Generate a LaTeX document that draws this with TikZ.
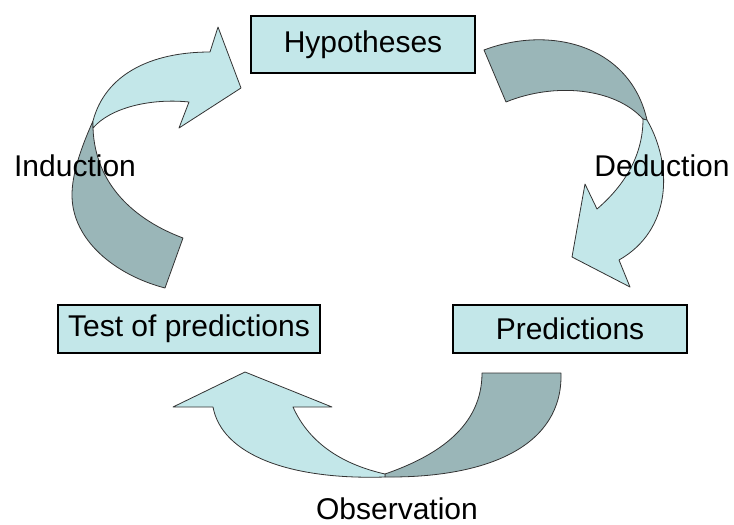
\documentclass[tikz,border=0pt]{standalone}
\usepackage{fontspec}
\setmainfont{Liberation Sans}
\usepackage{xcolor}
\definecolor{frontcol}{HTML}{C3E7E9}
\definecolor{backcol}{HTML}{9AB6B8}
\tikzset{
	box/.style = {draw = black, fill = frontcol, line width = 1.1pt, inner sep = 0pt},
	frontface/.style = {fill = frontcol, draw = black!80, line width = 0.8pt, line join = round},
	backface/.style = {fill = backcol, draw = black!80, line width = 0.8pt, line join = round},
	lbl/.style = {font = \fontsize{30}{36}\selectfont}
}

\begin{document}
\begin{tikzpicture}[x=1pt, y=-1pt]
		\useasboundingbox (0,0) rectangle (734,525);
		\begin{scope}
			% induction: from test of predictions up to hypotheses
			\draw[backface] (93,121) .. controls (80,150) and (72,175) .. (72,195)
				.. controls (72,240) and (115,275) .. (165,288) -- (183,238)
				.. controls (135,220) and (95,185) .. (93,128) -- cycle;
			\draw[frontface] (93,121) .. controls (105,75) and (150,52) .. (210,52)
				-- (218,27) -- (241,88) -- (179,128) -- (189,102)
				.. controls (150,98) and (110,108) .. (93,128) -- cycle;

			% deduction: from hypotheses down to predictions
			\draw[backface] (484,50) .. controls (550,25) and (630,45) .. (647,120)
				-- (643,119) .. controls (615,88) and (555,82) .. (506,102) -- cycle;
			\draw[frontface] (647,120) .. controls (673,165) and (672,230) .. (619,260)
				-- (630,287) -- (572,257) -- (585,184) -- (597,209)
				.. controls (625,185) and (643,155) .. (643,119) -- cycle;

			% observation: from predictions round to test of predictions
			\draw[backface] (482,373) -- (561,373) .. controls (563,445) and (490,478) .. (385,477)
				-- (385,474) .. controls (440,455) and (482,425) .. (482,373) -- cycle;
			\draw[frontface] (385,477) .. controls (290,480) and (222,455) .. (213,407)
				-- (173,407) -- (245,372) -- (332,407) -- (293,407)
				.. controls (310,445) and (345,465) .. (385,474) -- cycle;
		\end{scope}

		\node[box, lbl, minimum width = 224pt, minimum height = 57pt] (hyp) at (363,44.5) {Hypotheses};
		\node[box, lbl, minimum width = 262pt, minimum height = 48pt] (test) at (189,329) {Test of predictions};
		\node[box, lbl, minimum width = 234pt, minimum height = 48pt] (pred) at (570,329) {Predictions};

		\node[lbl] (ind) at (75,166) {Induction};
		\node[lbl] (ded) at (662,166) {Deduction};
		\node[lbl] (obs) at (397,509) {Observation};
	\end{tikzpicture}
\end{document}
